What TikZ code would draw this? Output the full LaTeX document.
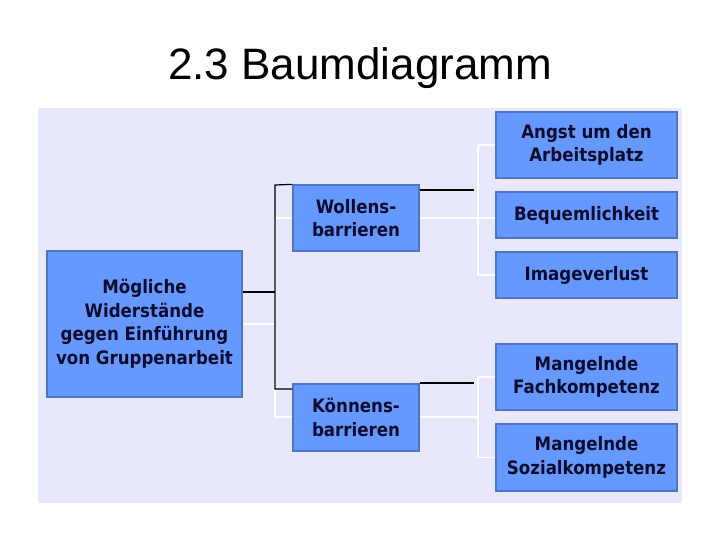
\documentclass[tikz,border=0pt]{standalone}
\usepackage{fontspec}
\setmainfont{Liberation Sans}
\newfontfamily\boxfont{DejaVu Sans Condensed}[BoldFont={DejaVu Sans Condensed Bold}]
\definecolor{panel}{HTML}{E8E8FC}
\definecolor{boxfill}{HTML}{6699FF}
\definecolor{boxedge}{HTML}{4F74C6}
\definecolor{boxtext}{HTML}{0B0B2E}
\begin{document}
\begin{tikzpicture}[x=1pt,y=-1pt,
  box/.style={draw=boxedge,fill=boxfill,line width=1.3pt,inner sep=0pt,
    text=boxtext,align=center,
    font=\boxfont\bfseries\fontsize{18.5}{23.5}\selectfont},
  blk/.style={draw=black,line width=1.2pt},
  wht/.style={draw=white,line width=1.6pt}]
\useasboundingbox (0,0) rectangle (720,540);
\fill[white] (0,0) rectangle (720,540);
\fill[panel] (38,108) rectangle (682,503);
\node[font=\fontsize{44}{50}\selectfont] (title) at (360,68) {2.3 Baumdiagramm};
% coordinates
\coordinate (j1) at (275,324);
\coordinate (j2) at (478,218);
\coordinate (j3) at (478,417);
% white connectors
\draw[wht] (243,324) -- (j1);
\draw[wht] (275,218) -- (275,417);
\draw[wht] (275,218) -- (293,218);
\draw[wht] (275,417) -- (293,417);
\draw[wht] (419,218) -- (j2);
\draw[wht] (478,145) -- (478,275);
\draw[wht] (478,145) -- (496,145);
\draw[wht] (j2) -- (496,218);
\draw[wht] (478,275) -- (496,275);
\draw[wht] (419,417) -- (j3);
\draw[wht] (478,377) -- (478,457.5);
\draw[wht] (478,377) -- (496,377);
\draw[wht] (478,457.5) -- (496,457.5);
% nodes
\node[box,minimum width=195pt,minimum height=146pt] (root) at (144.5,324) {Mögliche\\Widerstände\\gegen Einführung\\von Gruppenarbeit};
\node[box,minimum width=126pt,minimum height=66pt] (w) at (356,218) {Wollens-\\barrieren};
\node[box,minimum width=126pt,minimum height=67pt] (k) at (356,417.5) {Könnens-\\barrieren};
\node[box,minimum width=181pt,minimum height=66pt] (a1) at (586.5,145) {Angst um den\\Arbeitsplatz};
\node[box,minimum width=181pt,minimum height=46pt] (a2) at (586.5,215) {Bequemlichkeit};
\node[box,minimum width=181pt,minimum height=46pt] (a3) at (586.5,275) {Imageverlust};
\node[box,minimum width=181pt,minimum height=66pt] (b1) at (586.5,377) {Mangelnde\\Fachkompetenz};
\node[box,minimum width=181pt,minimum height=67pt] (b2) at (586.5,457.5) {Mangelnde\\Sozialkompetenz};
% black connectors
\draw[blk] (root.east |- 0,292) -- (275,292);
\draw[blk] (w.north west) -- (275,185) -- (275,389) -- (k.west |- 0,389);
\draw[blk] (w.east |- 0,190) -- (474,190);
\draw[blk] (k.east |- 0,383) -- (474,383);
\end{tikzpicture}
\end{document}
